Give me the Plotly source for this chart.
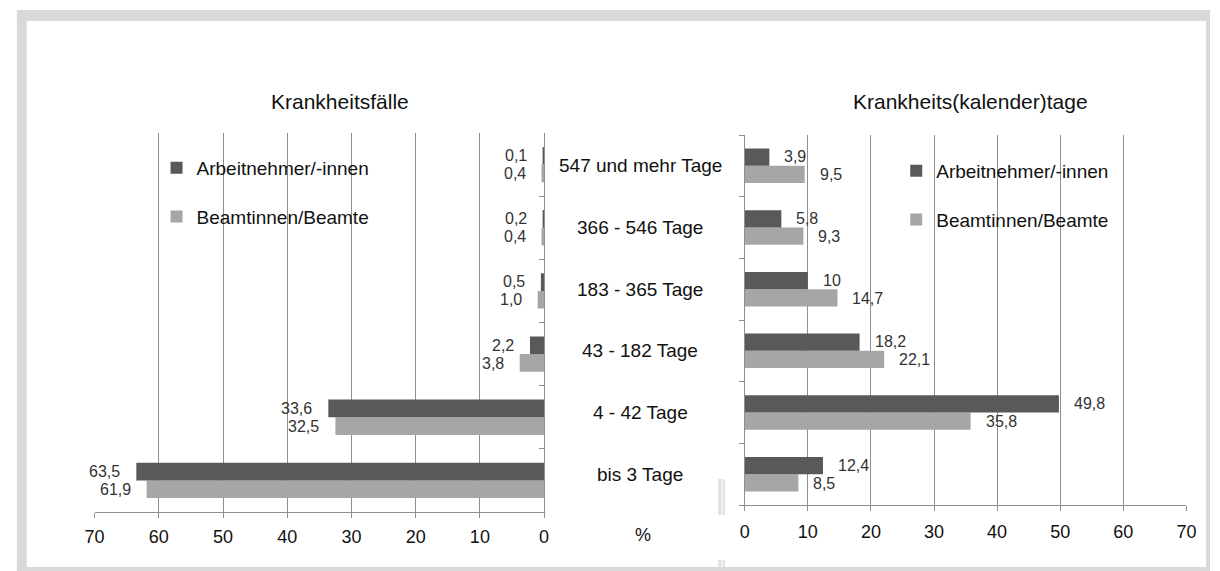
import plotly.graph_objects as go

W, H = 1220, 571

categories = ["bis 3 Tage", "4 - 42 Tage", "43 - 182 Tage", "183 - 365 Tage",
              "366 - 546 Tage", "547 und mehr Tage"]
series_names = ["Arbeitnehmer/-innen", "Beamtinnen/Beamte"]

faelle_arbeitnehmer = [63.5, 33.6, 2.2, 0.5, 0.2, 0.1]
faelle_beamte = [61.9, 32.5, 3.8, 1.0, 0.4, 0.4]
tage_arbeitnehmer = [12.4, 49.8, 18.2, 10, 5.8, 3.9]
tage_beamte = [8.5, 35.8, 22.1, 14.7, 9.3, 9.5]

faelle_arbeitnehmer_labels = ["63,5", "33,6", "2,2", "0,5", "0,2", "0,1"]
faelle_beamte_labels = ["61,9", "32,5", "3,8", "1,0", "0,4", "0,4"]
tage_arbeitnehmer_labels = ["12,4", "49,8", "18,2", "10", "5,8", "3,9"]
tage_beamte_labels = ["8,5", "35,8", "22,1", "14,7", "9,3", "9,5"]

tick_values = [0, 10, 20, 30, 40, 50, 60, 70]
tick_labels = ["0", "10", "20", "30", "40", "50", "60", "70"]

title_left = "Krankheitsfälle"
title_right = "Krankheits(kalender)tage"
unit_label = "%"

DARK = "#595959"
LIGHT = "#a6a6a6"
GRID = "#8f8f8f"
FRAME = "#d9d9d9"
FONT = "Liberation Sans, Arial, sans-serif"


def px(x):
    return x / W


def py(y):
    return 1 - y / H


fig = go.Figure()

# left chart (x, y)
fig.add_trace(go.Bar(y=categories, x=faelle_beamte, orientation="h", name=series_names[1],
                     marker=dict(color=LIGHT, line=dict(width=0)), xaxis="x", yaxis="y",
                     legend="legend", legendgroup="fb", legendrank=2, hoverinfo="x+name"))
fig.add_trace(go.Bar(y=categories, x=faelle_arbeitnehmer, orientation="h", name=series_names[0],
                     marker=dict(color=DARK, line=dict(width=0)), xaxis="x", yaxis="y",
                     legend="legend", legendgroup="fa", legendrank=1, hoverinfo="x+name"))
# right chart (x2, y2)
fig.add_trace(go.Bar(y=categories, x=tage_beamte, orientation="h", name=series_names[1],
                     marker=dict(color=LIGHT, line=dict(width=0)), xaxis="x2", yaxis="y2",
                     legend="legend2", legendgroup="tb", legendrank=2, hoverinfo="x+name"))
fig.add_trace(go.Bar(y=categories, x=tage_arbeitnehmer, orientation="h", name=series_names[0],
                     marker=dict(color=DARK, line=dict(width=0)), xaxis="x2", yaxis="y2",
                     legend="legend2", legendgroup="ta", legendrank=1, hoverinfo="x+name"))

annotations = []
label_font = dict(family=FONT, size=16, color="#333333")
for cat, v, t in zip(categories, faelle_arbeitnehmer, faelle_arbeitnehmer_labels):
    annotations.append(dict(x=v, y=cat, xref="x", yref="y", text=t, showarrow=False,
                            xanchor="right", yanchor="middle", xshift=-14, yshift=9, font=label_font))
for cat, v, t in zip(categories, faelle_beamte, faelle_beamte_labels):
    annotations.append(dict(x=v, y=cat, xref="x", yref="y", text=t, showarrow=False,
                            xanchor="right", yanchor="middle", xshift=-14, yshift=-9, font=label_font))
for cat, v, t in zip(categories, tage_arbeitnehmer, tage_arbeitnehmer_labels):
    annotations.append(dict(x=v, y=cat, xref="x2", yref="y2", text=t, showarrow=False,
                            xanchor="left", yanchor="middle", xshift=13, yshift=9, font=label_font))
for cat, v, t in zip(categories, tage_beamte, tage_beamte_labels):
    annotations.append(dict(x=v, y=cat, xref="x2", yref="y2", text=t, showarrow=False,
                            xanchor="left", yanchor="middle", xshift=13, yshift=-9, font=label_font))

# category labels centred between the two charts
for cat in categories:
    annotations.append(dict(x=px(641), y=cat, xref="paper", yref="y2", text=cat, showarrow=False,
                            xanchor="center", yanchor="middle", yshift=0,
                            font=dict(family=FONT, size=19, color="#111111")))

annotations.append(dict(x=px(336), y=py(101), xref="paper", yref="paper", text=title_left,
                        showarrow=False, xanchor="center", yanchor="middle",
                        font=dict(family=FONT, size=21, color="#111111")))
annotations.append(dict(x=px(977), y=py(101), xref="paper", yref="paper", text=title_right,
                        showarrow=False, xanchor="center", yanchor="middle",
                        font=dict(family=FONT, size=21, color="#111111")))
annotations.append(dict(x=px(644), y=py(535), xref="paper", yref="paper", text=unit_label,
                        showarrow=False, xanchor="center", yanchor="middle",
                        font=dict(family=FONT, size=18, color="#111111")))

shapes = [
    # outer frame
    dict(type="rect", xref="paper", yref="paper", x0=px(7), x1=px(1220), y0=py(10), y1=py(21),
         fillcolor=FRAME, line=dict(width=0), layer="below"),
    dict(type="rect", xref="paper", yref="paper", x0=px(7), x1=px(17), y0=py(10), y1=py(571),
         fillcolor=FRAME, line=dict(width=0), layer="below"),
    dict(type="rect", xref="paper", yref="paper", x0=px(1216), x1=px(1220), y0=py(10), y1=py(571),
         fillcolor=FRAME, line=dict(width=0), layer="below"),
    dict(type="rect", xref="paper", yref="paper", x0=px(7), x1=px(1220), y0=py(567), y1=py(571),
         fillcolor=FRAME, line=dict(width=0), layer="below"),
    # small separator marks
    dict(type="rect", xref="paper", yref="paper", x0=px(720), x1=px(723.5), y0=py(479), y1=py(515),
         fillcolor="#e2e2e2", line=dict(width=0), layer="below"),
    dict(type="rect", xref="paper", yref="paper", x0=px(724.5), x1=px(727), y0=py(479), y1=py(515),
         fillcolor="#e2e2e2", line=dict(width=0), layer="below"),
    dict(type="rect", xref="paper", yref="paper", x0=px(720), x1=px(723.5), y0=py(560), y1=py(567),
         fillcolor="#e2e2e2", line=dict(width=0), layer="below"),
    dict(type="rect", xref="paper", yref="paper", x0=px(724.5), x1=px(727), y0=py(560), y1=py(567),
         fillcolor="#e2e2e2", line=dict(width=0), layer="below"),
]

tickfont = dict(family=FONT, size=18, color="#111111")
legend_common = dict(font=dict(family=FONT, size=19, color="#111111"), bgcolor="rgba(0,0,0,0)",
                     borderwidth=0, xanchor="left", yanchor="top", tracegroupgap=21,
                     traceorder="grouped", itemclick=False, itemdoubleclick=False)

fig.update_layout(
    width=W, height=H,
    margin=dict(l=0, r=0, t=0, b=0),
    paper_bgcolor="white", plot_bgcolor="white",
    barmode="group", bargap=0.44, bargroupgap=0,
    font=dict(family=FONT, color="#111111"),
    xaxis=dict(domain=[px(86), px(543)], range=[70, 0], tickvals=tick_values, ticktext=tick_labels,
               showgrid=True, gridcolor=GRID, gridwidth=1, zeroline=False,
               showline=True, linecolor=GRID, linewidth=1, ticks="outside", ticklen=5,
               tickcolor=GRID, tickfont=tickfont, ticklabelstandoff=3, anchor="y", fixedrange=True),
    yaxis=dict(domain=[py(512), py(133)], categoryorder="array", categoryarray=categories,
               side="right", showline=True, linecolor=GRID, linewidth=1, ticks="inside",
               ticklen=5, tickcolor=GRID, tickson="boundaries", showticklabels=False,
               showgrid=False, zeroline=False, anchor="x", fixedrange=True),
    xaxis2=dict(domain=[px(747), px(1196)], range=[0, 70], tickvals=tick_values, ticktext=tick_labels,
                showgrid=True, gridcolor=GRID, gridwidth=1, zeroline=False,
                showline=True, linecolor=GRID, linewidth=1, ticks="outside", ticklen=5,
                tickcolor=GRID, tickfont=tickfont, ticklabelstandoff=5, anchor="y2", fixedrange=True),
    yaxis2=dict(domain=[py(505), py(135)], categoryorder="array", categoryarray=categories,
                side="left", showline=True, linecolor=GRID, linewidth=1, ticks="outside",
                ticklen=5, tickcolor=GRID, tickson="boundaries", showticklabels=False,
                showgrid=False, zeroline=False, anchor="x2", fixedrange=True),
    legend=dict(x=px(149), y=py(149), **legend_common),
    legend2=dict(x=px(901), y=py(152), **legend_common),
    annotations=annotations,
    shapes=shapes,
    hovermode="closest",
)

page_fix = ("document.body.style.margin='0';document.body.style.padding='0';"
            "document.body.style.overflow='hidden';"
            "document.documentElement.style.overflow='hidden';")

fig.write_html("out.html", config={"displayModeBar": False}, post_script=page_fix)
